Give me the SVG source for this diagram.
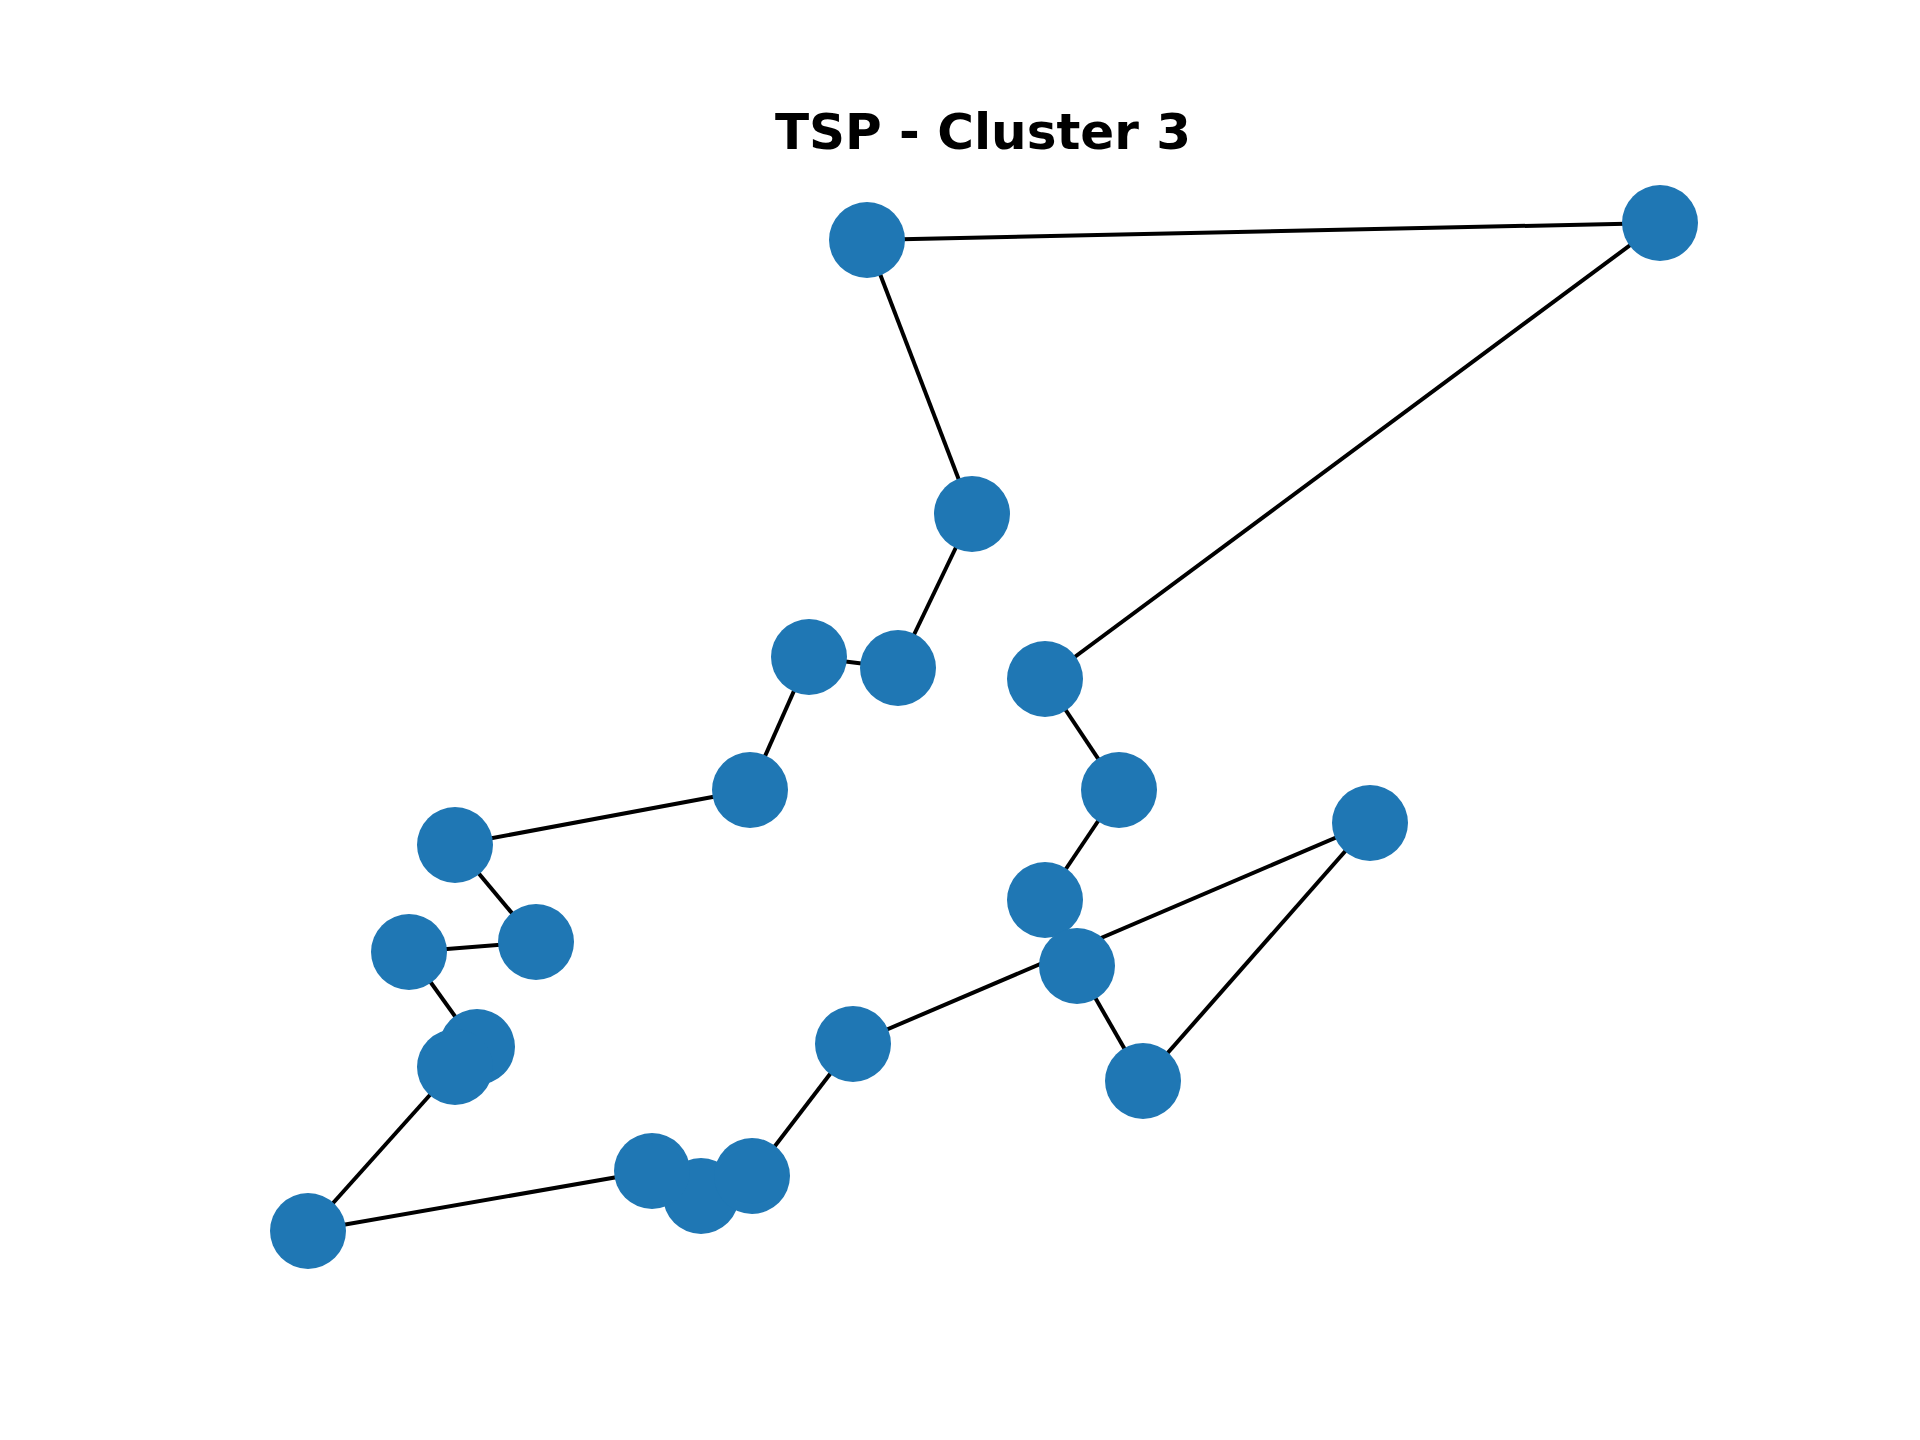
<svg xmlns="http://www.w3.org/2000/svg" width="1920" height="1440" viewBox="0 0 1920 1440">
<style>
.title{font-family:"DejaVu Sans","Liberation Sans",sans-serif;font-weight:bold;font-size:50px;fill:#000}
.edge{stroke:#000;stroke-width:4;fill:none}
.node{fill:#1f77b4}
</style>
<rect width="1920" height="1440" fill="#fff"/>
<text class="title" x="983" y="149" text-anchor="middle">TSP - Cluster 3</text>
<g id="edges">
<line class="edge" x1="867" y1="240" x2="1660" y2="223"/>
<line class="edge" x1="867" y1="240" x2="972" y2="514"/>
<line class="edge" x1="972" y1="514" x2="898" y2="668"/>
<line class="edge" x1="898" y1="668" x2="809" y2="657"/>
<line class="edge" x1="809" y1="657" x2="750" y2="790"/>
<line class="edge" x1="750" y1="790" x2="455" y2="845"/>
<line class="edge" x1="455" y1="845" x2="536" y2="942"/>
<line class="edge" x1="536" y1="942" x2="409" y2="952"/>
<line class="edge" x1="409" y1="952" x2="477" y2="1047"/>
<line class="edge" x1="477" y1="1047" x2="455" y2="1067"/>
<line class="edge" x1="455" y1="1067" x2="308" y2="1231"/>
<line class="edge" x1="308" y1="1231" x2="652" y2="1171"/>
<line class="edge" x1="652" y1="1171" x2="701" y2="1196"/>
<line class="edge" x1="701" y1="1196" x2="752" y2="1176"/>
<line class="edge" x1="752" y1="1176" x2="853" y2="1044"/>
<line class="edge" x1="853" y1="1044" x2="1370" y2="823"/>
<line class="edge" x1="1370" y1="823" x2="1143" y2="1081"/>
<line class="edge" x1="1143" y1="1081" x2="1077" y2="966"/>
<line class="edge" x1="1077" y1="966" x2="1045" y2="900"/>
<line class="edge" x1="1045" y1="900" x2="1119" y2="790"/>
<line class="edge" x1="1119" y1="790" x2="1045" y2="679"/>
<line class="edge" x1="1045" y1="679" x2="1660" y2="223"/>
</g>
<g id="nodes">
<g id="n1"><circle class="node" cx="867" cy="240" r="38"/></g>
<g id="n2"><circle class="node" cx="1660" cy="223" r="38"/></g>
<g id="n3"><circle class="node" cx="972" cy="514" r="38"/></g>
<g id="n4"><circle class="node" cx="809" cy="657" r="38"/></g>
<g id="n5"><circle class="node" cx="898" cy="668" r="38"/></g>
<g id="n6"><circle class="node" cx="1045" cy="679" r="38"/></g>
<g id="n7"><circle class="node" cx="750" cy="790" r="38"/></g>
<g id="n8"><circle class="node" cx="1119" cy="790" r="38"/></g>
<g id="n9"><circle class="node" cx="1370" cy="823" r="38"/></g>
<g id="n10"><circle class="node" cx="455" cy="845" r="38"/></g>
<g id="n11"><circle class="node" cx="1045" cy="900" r="38"/></g>
<g id="n12"><circle class="node" cx="536" cy="942" r="38"/></g>
<g id="n13"><circle class="node" cx="409" cy="952" r="38"/></g>
<g id="n14"><circle class="node" cx="1077" cy="966" r="38"/></g>
<g id="n15"><circle class="node" cx="477" cy="1047" r="38"/></g>
<g id="n16"><circle class="node" cx="455" cy="1067" r="38"/></g>
<g id="n17"><circle class="node" cx="853" cy="1044" r="38"/></g>
<g id="n18"><circle class="node" cx="1143" cy="1081" r="38"/></g>
<g id="n21"><circle class="node" cx="701" cy="1196" r="38"/></g>
<g id="n19"><circle class="node" cx="652" cy="1171" r="38"/></g>
<g id="n20"><circle class="node" cx="752" cy="1176" r="38"/></g>
<g id="n22"><circle class="node" cx="308" cy="1231" r="38"/></g>
</g>
</svg>
